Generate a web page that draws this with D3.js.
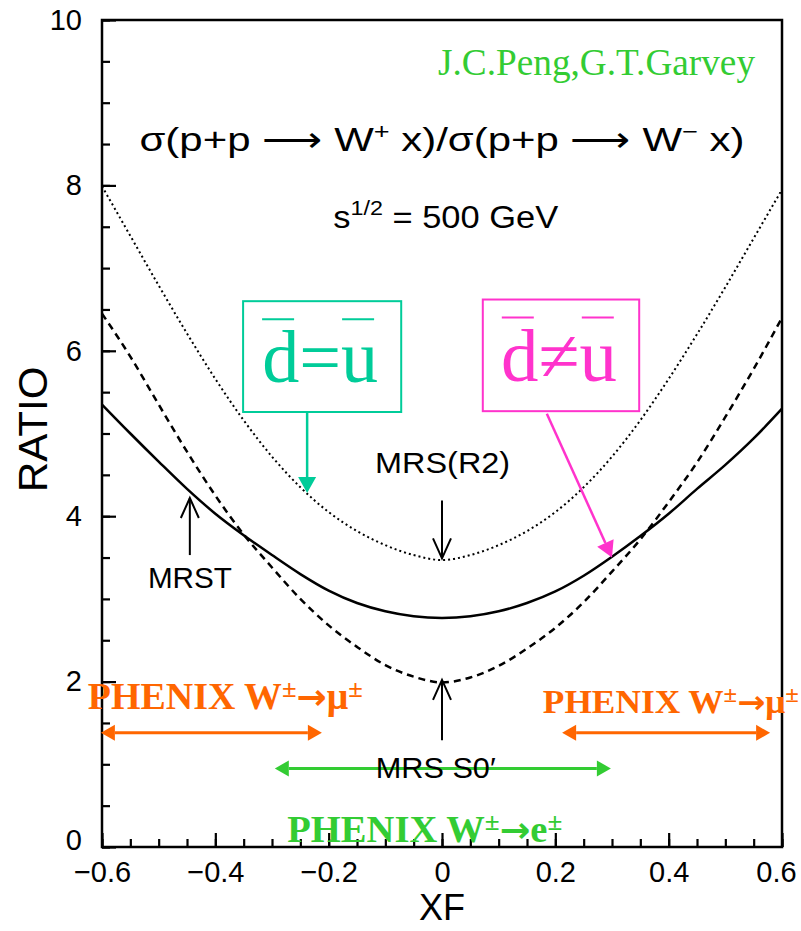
<!DOCTYPE html>
<html>
<head>
<meta charset="utf-8">
<script src="https://cdn.jsdelivr.net/npm/d3@7"></script>
<style>
  body { margin: 0; background: #fff; }
  svg { display: block; }
  .tick text { font-family: "Liberation Sans", Arial, sans-serif; font-size: 29px; fill: #000; }
</style>
</head>
<body>
<div id="chart"></div>
<script>
// values (ratio of W+ / W- cross sections vs xF)
const xf = [-0.6, -0.55, -0.5, -0.45, -0.4, -0.35, -0.3, -0.25, -0.2, -0.15, -0.1, -0.05, 0,
            0.05, 0.1, 0.15, 0.2, 0.25, 0.3, 0.35, 0.4, 0.45, 0.5, 0.55, 0.6];
const mrst  = [5.35, 5.0, 4.66, 4.33, 4.03, 3.77, 3.53, 3.3, 3.1, 2.95, 2.85, 2.79, 2.77,
               2.79, 2.85, 2.95, 3.09, 3.28, 3.51, 3.76, 4.03, 4.33, 4.62, 4.94, 5.3];
const mrsR2 = [7.99, 7.39, 6.79, 6.21, 5.66, 5.16, 4.72, 4.35, 4.05, 3.82, 3.65, 3.53, 3.47,
               3.53, 3.65, 3.82, 4.05, 4.35, 4.72, 5.16, 5.66, 6.2, 6.77, 7.36, 7.95];
const mrsS0 = [6.45, 5.93, 5.35, 4.78, 4.25, 3.78, 3.38, 3.0, 2.68, 2.42, 2.2, 2.06, 1.99,
               2.05, 2.19, 2.4, 2.65, 2.96, 3.33, 3.72, 4.17, 4.65, 5.2, 5.78, 6.4];

const xTicks = [-0.6, -0.4, -0.2, 0, 0.2, 0.4, 0.6];
const xTickLabels = ["\u22120.6", "\u22120.4", "\u22120.2", "0", "0.2", "0.4", "0.6"];
const yTicks = [0, 2, 4, 6, 8, 10];

const W = 801, H = 931;
const margin = {left: 102, right: 782, top: 20, bottom: 847};

const x = d3.scaleLinear().domain([-0.6, 0.6]).range([margin.left, margin.right]);
const y = d3.scaleLinear().domain([0, 10]).range([margin.bottom, margin.top]);

const svg = d3.select("#chart").append("svg")
    .attr("width", W).attr("height", H);

const orange = "#ff6600", green = "#33cc33", teal = "#00cc99", pink = "#ff33cc";

// ticks
svg.append("g")
    .attr("transform", "translate(0," + margin.bottom + ")")
    .call(d3.axisBottom(x).tickValues(d3.range(-0.6, 0.6001, 0.05)).tickSize(-8).tickFormat(""))
    .call(g => g.select(".domain").remove());
const xAxis = svg.append("g")
    .attr("transform", "translate(0," + margin.bottom + ")")
    .call(d3.axisBottom(x).tickValues(xTicks).tickSize(-14).tickPadding(14)
        .tickFormat((d, i) => xTickLabels[i]))
    .call(g => g.select(".domain").remove());
xAxis.selectAll(".tick text").filter(d => d === 0.6).attr("dx", -6);

svg.append("g")
    .attr("transform", "translate(" + margin.left + ",0)")
    .call(d3.axisLeft(y).tickValues(d3.range(0, 10.001, 0.5)).tickSize(-8).tickFormat(""))
    .call(g => g.select(".domain").remove());
const yAxis = svg.append("g")
    .attr("transform", "translate(" + margin.left + ",0)")
    .call(d3.axisLeft(y).tickValues(yTicks).tickSize(-14).tickPadding(20))
    .call(g => g.select(".domain").remove());
yAxis.selectAll(".tick text").filter(d => d === 0).attr("dy", "0.1em");

svg.selectAll(".tick line").attr("stroke", "#000").attr("stroke-width", 2.2);

// frame
svg.append("rect")
    .attr("x", margin.left).attr("y", margin.top)
    .attr("width", margin.right - margin.left).attr("height", margin.bottom - margin.top)
    .attr("fill", "none").attr("stroke", "#000").attr("stroke-width", 2.5);

// curves
const line = d3.line()
    .x((d, i) => x(xf[i]))
    .y(d => y(d))
    .curve(d3.curveMonotoneX);

svg.append("path").datum(mrsR2)
    .attr("d", line).attr("fill", "none").attr("stroke", "#000")
    .attr("stroke-width", 2).attr("stroke-dasharray", "2,3");
svg.append("path").datum(mrsS0)
    .attr("d", line).attr("fill", "none").attr("stroke", "#000")
    .attr("stroke-width", 2.5).attr("stroke-dasharray", "7,5");
svg.append("path").datum(mrst)
    .attr("d", line).attr("fill", "none").attr("stroke", "#000")
    .attr("stroke-width", 2.5);

// arrows
function arrow(x1, y1, x2, y2, color, opts) {
  const o = Object.assign({ w: 2, head: 16, half: 8, filled: true, both: false }, opts);
  const p1 = [x(x1), y(y1)], p2 = [x(x2), y(y2)];
  const g = svg.append("g");
  function head(a, b) {
    const dx = b[0] - a[0], dy = b[1] - a[1], L = Math.hypot(dx, dy);
    const ux = dx / L, uy = dy / L;
    const bx = b[0] - ux * o.head, by = b[1] - uy * o.head;
    const l = [bx - uy * o.half, by + ux * o.half], r = [bx + uy * o.half, by - ux * o.half];
    if (o.filled) {
      g.append("path").attr("d", "M" + b + "L" + l + "L" + r + "Z").attr("fill", color);
    } else {
      g.append("path").attr("d", "M" + l + "L" + b + "L" + r)
          .attr("fill", "none").attr("stroke", color).attr("stroke-width", o.w);
    }
    return [bx, by];
  }
  let s = p1, e = p2;
  if (o.filled) {
    e = head(p1, p2);
    if (o.both) s = head(p2, p1);
  } else {
    head(p1, p2);
  }
  g.append("line").attr("x1", s[0]).attr("y1", s[1]).attr("x2", e[0]).attr("y2", e[1])
      .attr("stroke", color).attr("stroke-width", o.w);
}

arrow(0, 4.19, 0, 3.49, "#000", { filled: false, head: 20, half: 9 });
arrow(-0.445, 3.53, -0.445, 4.22, "#000", { filled: false, head: 20, half: 9 });
arrow(0, 1.29, 0, 2.02, "#000", { filled: false, head: 20, half: 9 });

arrow(-0.238, 5.26, -0.238, 4.28, teal, { w: 2.5, head: 16, half: 9 });
arrow(0.185, 5.24, 0.3, 3.5, pink, { w: 2.5, head: 16, half: 9 });

arrow(-0.602, 1.38, -0.212, 1.38, orange, { w: 3, head: 14, half: 8, both: true });
arrow(0.212, 1.38, 0.579, 1.38, orange, { w: 3, head: 14, half: 8, both: true });
arrow(-0.295, 0.95, 0.298, 0.95, green, { w: 3, head: 14, half: 8, both: true });

// boxes with d=u / d≠u
function box(x0, x1, y0, y1, color, label) {
  const bx = x(x0), by = y(y0), bw = x(x1) - x(x0), bh = y(y1) - y(y0);
  svg.append("rect").attr("x", bx).attr("y", by).attr("width", bw).attr("height", bh)
      .attr("fill", "#fff").attr("stroke", color).attr("stroke-width", 2);
  svg.append("text").attr("x", bx + bw / 2 - 2).attr("y", by + 81)
      .attr("text-anchor", "middle")
      .attr("font-family", "Liberation Serif, Times New Roman, serif")
      .attr("font-size", 74).attr("fill", color)
      .attr("textLength", 116).attr("lengthAdjust", "spacingAndGlyphs")
      .text(label);
  [[19, 51], [99, 131]].forEach(b => {
    svg.append("line").attr("x1", bx + b[0]).attr("x2", bx + b[1])
        .attr("y1", by + 18).attr("y2", by + 18)
        .attr("stroke", color).attr("stroke-width", 2);
  });
}
box(-0.351, -0.072, 6.6, 5.26, teal, "d=u");
box(0.072, 0.348, 6.62, 5.27, pink, "d\u2260u");

// texts
const sans = "Liberation Sans, Arial, sans-serif";
const serif = "Liberation Serif, Times New Roman, serif";

function txt(xv, yv, opts) {
  const t = svg.append("text")
      .attr("x", x(xv)).attr("y", y(yv))
      .attr("text-anchor", opts.anchor || "start")
      .attr("font-family", opts.family || sans)
      .attr("font-size", opts.size)
      .attr("font-weight", opts.weight || "normal")
      .attr("fill", opts.color || "#000");
  if (opts.len) t.attr("textLength", opts.len).attr("lengthAdjust", "spacingAndGlyphs");
  return t;
}

txt(-0.007, 9.33, { family: serif, size: 37, color: green, len: 317 }).text("J.C.Peng,G.T.Garvey");

const title = txt(0, 8.42, { anchor: "middle", size: 34, len: 605 });
title.append("tspan").text("\u03c3(p+p \u27f6 W");
title.append("tspan").attr("dy", -12).attr("font-size", 22).text("+");
title.append("tspan").attr("dy", 12).text(" x)/\u03c3(p+p \u27f6 W");
title.append("tspan").attr("dy", -12).attr("font-size", 22).text("\u2212");
title.append("tspan").attr("dy", 12).text(" x)");

const sq = txt(-0.192, 7.49, { size: 31, len: 225 });
sq.append("tspan").text("s");
sq.append("tspan").attr("dy", -13).attr("font-size", 21).text("1/2");
sq.append("tspan").attr("dy", 13).text(" = 500 GeV");

txt(-0.118, 4.52, { size: 30, len: 135 }).text("MRS(R2)");
txt(-0.519, 3.13, { size: 30, len: 84 }).text("MRST");
txt(-0.117, 0.84, { size: 30, len: 120 }).text("MRS S0\u2032");

function phenix(xv, yv, size, len, color, lep) {
  const t = txt(xv, yv, { family: serif, size: size, weight: "bold", color: color, len: len });
  const up = size * 0.32;
  t.append("tspan").text("PHENIX W");
  t.append("tspan").attr("dy", -up).attr("font-size", size * 0.7).text("\u00b1");
  t.append("tspan").attr("dy", up).attr("font-family", "DejaVu Sans, sans-serif")
      .attr("font-size", size * 0.95).text("\u2192");
  t.append("tspan").text(lep);
  t.append("tspan").attr("dy", -up).attr("font-size", size * 0.7).text("\u00b1");
}
phenix(-0.625, 1.668, 37, 275, orange, "\u03bc");
phenix(0.178, 1.62, 33, 256, orange, "\u03bc");
phenix(-0.273, 0.06, 37, 275, green, "e");

// axis titles
svg.append("text")
    .attr("transform", "translate(47," + y(5.05) + ") rotate(-90)")
    .attr("text-anchor", "middle")
    .attr("font-family", sans).attr("font-size", 40)
    .attr("textLength", 126).attr("lengthAdjust", "spacingAndGlyphs")
    .text("RATIO");

svg.append("text")
    .attr("x", x(0)).attr("y", 920)
    .attr("text-anchor", "middle")
    .attr("font-family", sans).attr("font-size", 36)
    .text("XF");
</script>
</body>
</html>
